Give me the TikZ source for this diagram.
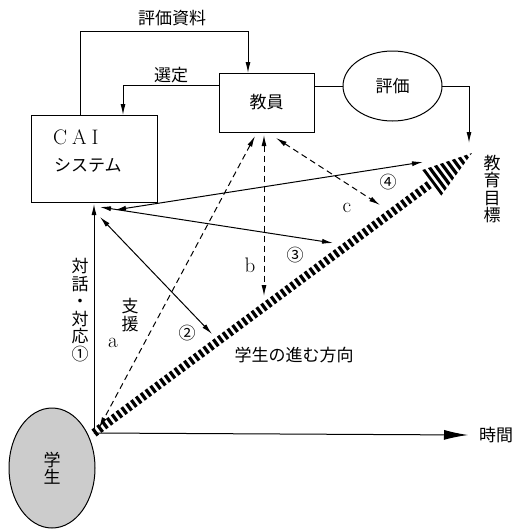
\documentclass[tikz,border=0pt]{standalone}
\usepackage{fontspec}
\newfontfamily\jp{Noto Sans CJK JP}
\usetikzlibrary{arrows.meta,shapes.geometric,calc}
\begin{document}
\begin{tikzpicture}[x=1pt,y=-1pt,
  every node/.style={inner sep=0pt,outer sep=0pt},
  box/.style={draw,line width=1pt,rectangle},
  oval/.style={draw,line width=1pt,ellipse},
  ln/.style={line width=1pt},
  tip/.style={-{Latex[length=11pt,width=5pt]}},
  dtip/.style={{Latex[length=11pt,width=5pt]}-{Latex[length=11pt,width=5pt]}},
  dashline/.style={dash pattern=on 6pt off 4pt},
  jtxt/.style={font=\jp\fontsize{17}{17.5}\selectfont},
  vtxt/.style={font=\jp\fontsize{17}{17.5}\selectfont,align=center},
  ltxt/.style={font=\fontsize{21}{24}\selectfont},
  hatch/.style={line width=8.5pt,dash pattern=on 3.2pt off 2.8pt}
]
\useasboundingbox (0,0) rectangle (513,530);
% nodes
\node[box,minimum width=126pt,minimum height=87pt] (cai) at (94,158.5) {};
\node[ltxt,anchor=west] (cait) at (53,137) {C\hspace{5pt}A\hspace{5pt}I};
\node[jtxt,anchor=west] (caij) at (54,165) {システム};
\node[box,minimum width=95pt,minimum height=59pt,jtxt] (teacher) at (266.5,102.5) {教員};
\node[oval,minimum width=99pt,minimum height=70pt,jtxt] (eval) at (392.5,86) {評価};
\node[oval,minimum width=86pt,minimum height=120pt,fill=black!20,vtxt] (student) at (52,468) {学\\生};
\node[jtxt] (lblmat) at (172,18) {評価資料};
\node[jtxt] (lblsel) at (171,75) {選定};
\node[vtxt] (goaltxt) at (492,189) {教\\育\\目\\標};
\node[jtxt,anchor=west] (timetxt) at (479,435) {時間};
\node[vtxt] (lbl1) at (80,310) {対\\話\\・\\対\\応\\①};
\node[vtxt] (lblsup) at (130,315) {支\\援};
\node[ltxt] (la) at (113,343) {a};
\node[jtxt] (l2) at (187,333) {②};
\node[ltxt] (lb) at (250,265) {b};
\node[jtxt] (l3) at (295,255) {③};
\node[ltxt] (lc) at (347,208) {c};
\node[jtxt] (l4) at (388,182) {④};
\node[jtxt] (ldir) at (294,355) {学生の進む方向};
% coordinates
\coordinate (origin) at (94,433);
\coordinate (goal) at (472,153);
\coordinate (g4) at (423,162);
\coordinate (g3) at (333,243);
\coordinate (g2) at (212,334);
\coordinate (c1) at (94,204);
\coordinate (c2) at (100,217);
\coordinate (c3) at (100,207);
\coordinate (c4) at (115,210);
\coordinate (ta) at (255,136);
\coordinate (tb) at (264,135);
\coordinate (tc) at (276,138);
\coordinate (sa) at (99,428);
\coordinate (eb) at (264,296);
\coordinate (ec) at (380,205);
\coordinate (timeend) at (468,435);
\coordinate (evaldown) at (469,143);
% connectors at top
\draw[ln,tip] (cai.north -| 80,0) |- (248,31) -- (teacher.north -| 248,0);
\draw[ln,tip] (teacher.west |- 0,85) -| (cai.north -| 123,0);
\draw[ln] (teacher.east |- 0,86) -- (eval.west);
\draw[ln,tip] (eval.east) -| (evaldown);
% hatched direction
\draw[hatch] (origin) -- ($(origin)!0.89!(goal)$);
\begin{scope}
\clip (goal) -- (441.3,195.6) -- (422.3,170) -- cycle;
\draw[hatch,line width=36pt] (origin) -- (goal);
\end{scope}
% arrows from student / CAI
\draw[ln,tip] (origin) -- (c1);
\draw[ln,dtip] (c2) -- (g2);
\draw[ln,dtip] (c3) -- (g3);
\draw[ln,dtip] (c4) -- (g4);
\draw[ln,-{Latex[length=24pt,width=10pt]}] (origin) -- (timeend);
% dashed teacher arrows
\draw[ln,dashline,dtip] (ta) -- (sa);
\draw[ln,dashline,dtip] (tb) -- (eb);
\draw[ln,dashline,dtip] (tc) -- (ec);
\end{tikzpicture}
\end{document}
